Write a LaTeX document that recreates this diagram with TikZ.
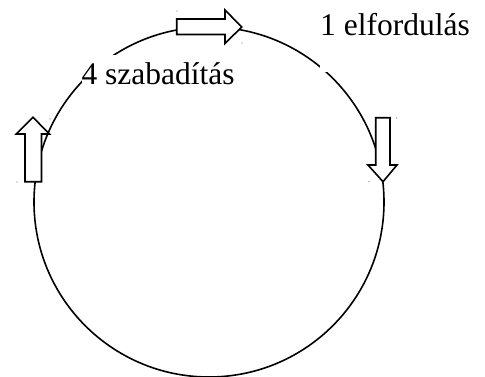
\documentclass[tikz,border=0pt]{standalone}
\usepackage{fontspec}
\setmainfont{Liberation Serif}
\begin{document}
\begin{tikzpicture}[x=1pt,y=-1pt,
  ring/.style={circle,draw=black,line width=1.6pt,minimum size=350pt,inner sep=0pt},
  blockarrow/.style={draw=black,fill=white,line width=1.6pt,line join=miter},
  label/.style={anchor=base west,fill=white,inner xsep=0pt,inner ysep=0pt,
    font=\fontsize{31.5}{36}\selectfont},
  speck/.style={fill=black!55}]
\useasboundingbox (0,0) rectangle (485,376);
\node[ring] (ring) at (209,202) {};
% top arrow (pointing right)
\draw[blockarrow] (176.7,19) -- (225,19) -- (225,10) -- (241.7,27) -- (225,43.5) -- (225,34.5) -- (176.7,34.5) -- cycle;
% left arrow (pointing up)
\draw[blockarrow] (25,181.7) -- (25,134) -- (16.3,134) -- (33,117.3) -- (49.5,134) -- (41.5,134) -- (41.5,181.7) -- cycle;
% right arrow (pointing down)
\draw[blockarrow] (375.7,117.7) -- (390,117.7) -- (390,165) -- (397,165) -- (383,181.7) -- (368,165) -- (375.7,165) -- cycle;
% specks
\foreach \p in {(177,11),(242,43),(50,119),(17,182),(396.7,118),(369,181.7)}
  \fill[speck] \p circle (0.6pt);
\node[label,text height=29pt,text depth=8pt] (free) at (81.3,84.3) {4 szabadítás};
\node[label,text height=28pt,text depth=37pt] (turn) at (320,35) {1 elfordulás};
\end{tikzpicture}
\end{document}
